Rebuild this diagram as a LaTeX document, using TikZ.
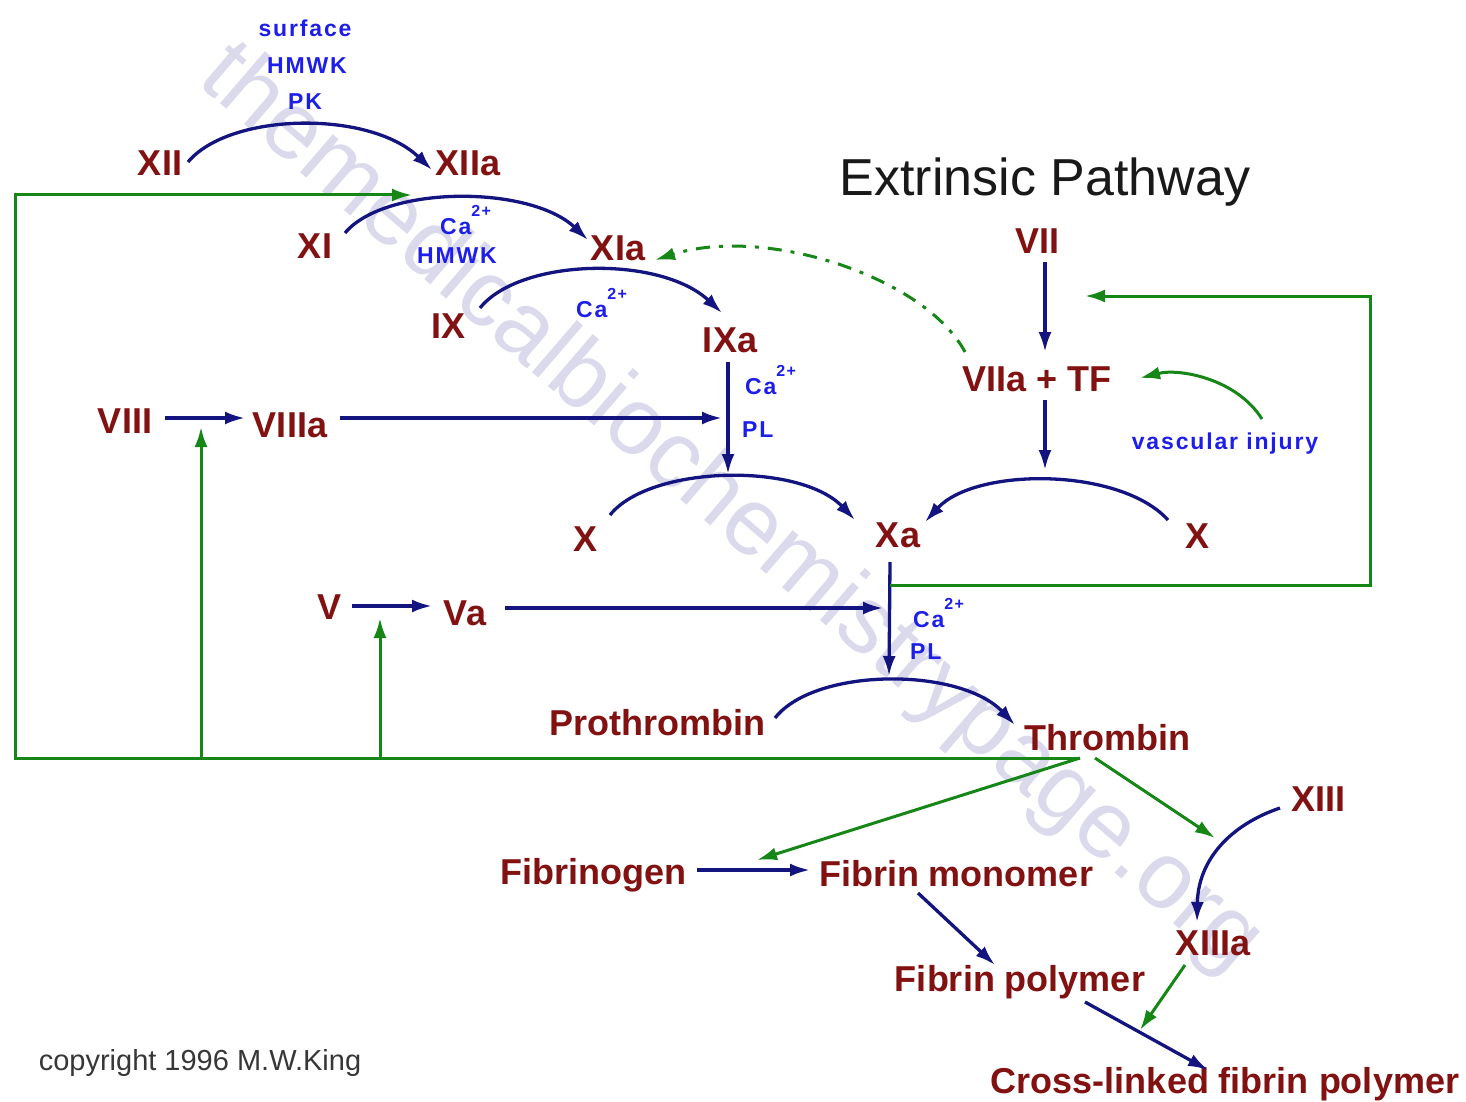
\documentclass[tikz,border=0pt]{standalone}
\usepackage{fontspec}
\setmainfont{Liberation Sans}
\newfontfamily\labfont[LetterSpace=8]{Liberation Sans}
\usetikzlibrary{arrows.meta,calc}
\definecolor{fred}{RGB}{130,18,18}
\definecolor{fnavy}{RGB}{20,20,128}
\definecolor{fblue}{RGB}{30,30,235}
\definecolor{fgreen}{RGB}{22,135,22}
\definecolor{ftitle}{RGB}{25,25,25}
\definecolor{fgray}{RGB}{55,55,55}
\definecolor{fwater}{RGB}{218,218,236}
\newcommand{\caion}{Ca{\fontsize{16}{16}\selectfont\raisebox{18pt}{2+}}}
\begin{document}
\begin{tikzpicture}[x=1pt,y=-1pt,
  >={Latex[length=20pt,width=13pt]},
  factor/.style={text=fred, font=\fontsize{36}{40}\selectfont\bfseries, inner sep=0pt, outer sep=0pt, text height=26pt, text depth=0pt},
  cof/.style={text=fblue, font=\labfont\fontsize{23}{26}\selectfont\bfseries, inner sep=0pt, anchor=base},
  cofw/.style={cof, anchor=base west},
  conv/.style={draw=fnavy, line width=3.3pt, ->},
  act/.style={draw=fgreen, line width=3pt, ->}]
\useasboundingbox (0,0) rectangle (1466,1102);
\fill[white] (0,0) rectangle (1466,1102);

% watermark
\node[rotate=-40.7, text=fwater, font=\fontsize{95}{100}\selectfont] (wm) at (730,510) {themedicalbiochemistrypage.org};

% title and copyright
\node[anchor=base, text=ftitle, font=\fontsize{52}{58}\selectfont] (ext) at (1045,196) {Extrinsic Pathway};
\node[text=fgray, font=\fontsize{29}{32}\selectfont] (copy) at (200,1063) {copyright 1996 M.W.King};

% factors
\node[factor] (XII) at (160,163) {XII};
\node[factor] (XIIa) at (468,163) {XIIa};
\node[factor] (XI) at (315,245) {XI};
\node[factor] (XIa) at (618,247) {XIa};
\node[factor] (IX) at (448,325) {IX};
\node[factor] (IXa) at (730,339) {IXa};
\node[factor] (VII) at (1037,240) {VII};
\node[factor] (VIIaTF) at (1037,378) {VIIa + TF};
\node[factor] (VIII) at (125,420) {VIII};
\node[factor] (VIIIa) at (290,424) {VIIIa};
\node[factor] (Xl) at (585,538) {X};
\node[factor] (Xa) at (898,534) {Xa};
\node[factor] (Xr) at (1197,535) {X};
\node[factor] (V) at (330,606) {V};
\node[factor] (Va) at (465,612) {Va};
\node[factor] (Pro) at (657,722) {Prothrombin};
\node[factor] (Thr) at (1107,737) {Thrombin};
\node[factor] (XIII) at (1318,798) {XIII};
\node[factor] (XIIIa) at (1213,942) {XIIIa};
\node[factor] (Fbg) at (593,871) {Fibrinogen};
\node[factor] (Fmono) at (956,873) {Fibrin monomer};
\node[factor] (Fpoly) at (1020,978) {Fibrin polymer};
\node[factor] (XL) at (1225,1080) {Cross-linked fibrin polymer};

% cofactor labels
\node[cof] (surf) at (305,37) {surface};
\node[cof] (hmwka) at (307,74) {HMWK};
\node[cof] (pk) at (305,110) {PK};
\node[cofw] (caa) at (440,234) {\caion};
\node[cof] (hmwkb) at (457,263) {HMWK};
\node[cofw] (cab) at (576,317) {\caion};
\node[cofw] (cac) at (745,394) {\caion};
\node[cofw] (pla) at (742,437) {PL};
\node[cofw] (cad) at (913,627) {\caion};
\node[cofw] (plb) at (910,659) {PL};
\node[cof] (vasc) at (1225,449) {vascular injury};

% helper coordinates
\coordinate (pXl) at (728,474);
\coordinate (pXr) at (1045,470);
\coordinate (pPro) at (889,676);
\coordinate (tb) at ($(Thr)+(-27,21)$);
\coordinate (lbc) at (15,758);
\coordinate (ltc) at (15,195);
\coordinate (gXI) at (412,195);
\coordinate (ja) at (201,758);
\coordinate (jb) at (380,758);
\coordinate (rtc) at (1370,296);

% navy conversions
\draw[conv] ($(XII)+(28,-1)$) .. controls +(42,-50) and +(-62,-60) .. ($(XIIa)+(-36,7)$);
\draw[conv] ($(XI)+(30,-12)$) .. controls +(40,-48) and +(-58,-55) .. ($(XIa)+(-30,-7)$);
\draw[conv] ($(IX)+(32,-17)$) .. controls +(40,-50) and +(-62,-58) .. ($(IXa)+(-8,-26)$);
\draw[conv] ($(IXa)+(-2,23)$) -- (pXl);
\draw[conv] ($(VIII)+(40,-2)$) -- ($(VIIIa)+(-45,-6)$);
\draw[conv] ($(VIIIa)+(50,-6)$) -- ($(IXa)+(-8,79)$);
\draw[conv] ($(Xl)+(25,-23)$) .. controls +(40,-50) and +(-55,-58) .. ($(Xa)+(-43,-14)$);
\draw[conv] ($(Xr)+(-29,-15)$) .. controls +(-48,-53) and +(50,-55) .. ($(Xa)+(27,-12)$);
\draw[conv] ($(VII)+(8,22)$) -- ($(VIIaTF)+(8,-26)$);
\draw[conv] ($(VIIaTF)+(8,22)$) -- (pXr);
\draw[conv] ($(Xa)+(-8,28)$) -- (pPro);
\draw[conv] ($(V)+(22,0)$) -- ($(Va)+(-33,-6)$);
\draw[conv] ($(Va)+(40,-4)$) -- ($(Xa)+(-15,74)$);
\draw[conv] ($(Pro)+(118,-4)$) .. controls +(40,-51) and +(-55,-58) .. ($(Thr)+(-92,-12)$);
\draw[conv] ($(XIII)+(-38,10)$) .. controls +(-50,17) and +(1,-62) .. ($(XIIIa)+(-16,-20)$);
\draw[conv] ($(Fbg)+(104,-1)$) -- ($(Fmono)+(-146,-3)$);
\draw[conv] ($(Fmono)+(-38,20)$) -- ($(Fpoly)+(-25,-13)$);
\draw[conv] ($(Fpoly)+(65,24)$) -- ($(XL)+(-17,-10)$);

% green activations
\draw[act] (tb) -- (lbc) -- (ltc) -- (gXI);
\draw[act] (ja) -- ($(VIII)+(76,7)$);
\draw[act] (jb) -- ($(V)+(50,12)$);
\draw[act] (tb) -- ($(Fbg)+(164,-11)$);
\draw[act] ($(Thr)+(-12,21)$) -- ($(XIII)+(-103,40)$);
\draw[act] ($(Xa)+(-8,51)$) -| (rtc) -- ($(VII)+(48,56)$);
\draw[act, dash pattern=on 14pt off 9pt on 4pt off 9pt] ($(VIIaTF)+(-72,-26)$) .. controls +(-40,-75) and +(110,-35) .. ($(XIa)+(37,13)$);
\draw[act] ($(vasc)+(37,-24)$) .. controls +(-25,-40) and +(40,-10) .. ($(VIIaTF)+(103,0)$);
\draw[act] ($(XIIIa)+(-28,23)$) -- ($(XL)+(-85,-50)$);
\end{tikzpicture}
\end{document}
